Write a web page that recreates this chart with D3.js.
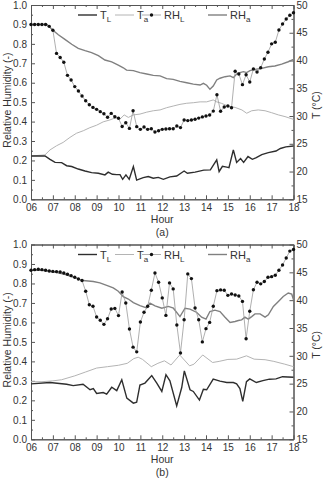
<!DOCTYPE html>
<html>
<head>
<meta charset="utf-8">
<script src="https://cdn.jsdelivr.net/npm/d3@7"></script>
<style>
body { margin: 0; background: #fff; }
text { font-family: "Liberation Sans", Arial, sans-serif; }
</style>
</head>
<body>
<div id="chart"></div>
<script>
// 10-minute sampling grid, 06:00 to 18:00
const hours = d3.range(73).map(i => 6 + i / 6);
const hourTicks = d3.range(6, 19);
const rhTicks = d3.range(0, 11).map(d => d / 10);
const tTicks = [15, 20, 25, 30, 35, 40, 45, 50];

// ---- panel (a) ----
const rhLA = [0.90, 0.90, 0.90, 0.90, 0.90, 0.89, 0.87, 0.751, 0.73, 0.705,
  0.638, 0.614, 0.58, 0.557, 0.532, 0.507, 0.487, 0.473, 0.463, 0.451,
  0.44, 0.422, 0.442, 0.425, 0.417, 0.375, 0.394, 0.365, 0.456, 0.374,
  0.36, 0.372, 0.36, 0.363, 0.346, 0.353, 0.36, 0.362, 0.363, 0.363,
  0.377, 0.369, 0.408, 0.405, 0.408, 0.412, 0.418, 0.424, 0.429, 0.434,
  0.454, 0.538, 0.453, 0.475, 0.48, 0.471, 0.659, 0.645, 0.59, 0.641,
  0.604, 0.671, 0.655, 0.677, 0.722, 0.757, 0.8, 0.808, 0.871, 0.902,
  0.928, 0.947, 0.96];

const rhAA = [[6.0, 0.90], [6.73, 0.90], [6.99, 0.871], [7.25, 0.847], [7.55, 0.823],
  [7.86, 0.798], [8.16, 0.777], [8.47, 0.765], [8.77, 0.755], [9.08, 0.739],
  [9.38, 0.717], [9.69, 0.707], [9.99, 0.69], [10.22, 0.677], [10.37, 0.665],
  [10.68, 0.662], [10.98, 0.652], [11.29, 0.645], [11.59, 0.638], [11.9, 0.635],
  [12.2, 0.621], [12.5, 0.617], [12.81, 0.607], [13.12, 0.6], [13.42, 0.593],
  [13.73, 0.588], [13.88, 0.597], [14.03, 0.587], [14.18, 0.566], [14.33, 0.583],
  [14.49, 0.614], [14.64, 0.623], [14.87, 0.631], [15.1, 0.635], [15.25, 0.626],
  [15.4, 0.645], [15.55, 0.652], [15.71, 0.657], [15.86, 0.652], [16.01, 0.662],
  [16.24, 0.669], [16.55, 0.674], [16.85, 0.682], [17.15, 0.686], [17.46, 0.696],
  [17.76, 0.708], [18.0, 0.72]];

// temperatures in °C
const tLA = [[6.0, 22.8], [6.64, 22.8], [6.87, 22.2], [7.1, 21.65], [7.4, 21.6],
  [7.63, 21.05], [7.86, 20.9], [8.16, 20.45], [8.47, 20.1], [8.77, 19.8],
  [9.08, 19.7], [9.38, 19.4], [9.53, 19.9], [9.72, 19.5], [9.92, 19.45],
  [10.07, 19.45], [10.19, 18.6], [10.34, 19.4], [10.49, 18.6], [10.68, 20.9],
  [10.83, 18.45], [11.13, 18.9], [11.36, 19.1], [11.59, 18.8], [11.82, 18.95],
  [12.05, 18.6], [12.35, 19.05], [12.66, 19.2], [13.0, 20.1], [13.15, 19.7],
  [13.5, 19.9], [13.9, 20.25], [14.2, 20.3], [14.49, 22.1], [14.6, 20.0],
  [14.75, 20.95], [14.95, 20.8], [15.05, 20.7], [15.25, 23.9], [15.4, 21.65],
  [15.58, 22.35], [15.72, 21.65], [15.92, 22.7], [16.12, 22.2], [16.3, 22.5],
  [16.55, 23.05], [16.85, 23.4], [17.2, 23.7], [17.4, 24.15], [17.65, 24.45],
  [18.0, 24.6]];

const tAA = [[6.0, 22.8], [6.64, 23.0], [6.87, 23.9], [7.17, 24.65], [7.47, 25.25],
  [7.78, 26.15], [8.08, 26.9], [8.39, 27.35], [8.69, 27.9], [9.0, 28.35],
  [9.3, 28.95], [9.61, 29.3], [9.91, 29.75], [10.08, 29.5], [10.26, 30.2],
  [10.45, 29.75], [10.68, 30.2], [10.98, 30.35], [11.29, 30.7], [11.59, 30.95],
  [11.9, 31.1], [12.2, 31.5], [12.5, 31.8], [12.81, 32.1], [13.12, 32.3],
  [13.42, 32.4], [13.73, 32.55], [14.03, 32.55], [14.33, 32.9], [14.49, 32.55],
  [14.7, 32.3], [15.0, 31.8], [15.33, 31.55], [15.64, 31.1], [15.86, 30.5],
  [16.09, 30.95], [16.39, 31.1], [16.7, 30.95], [17.0, 30.6], [17.31, 30.2],
  [17.61, 29.9], [18.0, 29.4]];

// ---- panel (b) ----
const rhLB = [0.868, 0.871, 0.873, 0.871, 0.868, 0.864, 0.862, 0.861, 0.859, 0.854,
  0.847, 0.84, 0.832, 0.823, 0.815, 0.76, 0.691, 0.683, 0.628, 0.611,
  0.59, 0.619, 0.669, 0.672, 0.635, 0.756, 0.7, 0.566, 0.473, 0.449,
  0.602, 0.652, 0.683, 0.765, 0.854, 0.806, 0.726, 0.636, 0.803, 0.772,
  0.587, 0.443, 0.614, 0.849, 0.825, 0.674, 0.614, 0.5, 0.568, 0.6,
  0.683, 0.763, 0.767, 0.765, 0.739, 0.746, 0.741, 0.736, 0.708, 0.516,
  0.657, 0.768, 0.806, 0.798, 0.81, 0.832, 0.835, 0.842, 0.868, 0.895,
  0.931, 0.966, 0.974];

const rhAB = [[6.0, 0.868], [6.5, 0.868], [7.0, 0.86], [7.5, 0.848], [8.0, 0.83],
  [8.38, 0.815], [8.85, 0.81], [9.15, 0.803], [9.46, 0.79], [9.76, 0.777],
  [9.99, 0.76], [10.22, 0.732], [10.45, 0.72], [10.68, 0.702], [10.98, 0.686],
  [11.29, 0.675], [11.44, 0.699], [11.67, 0.685], [11.98, 0.673], [12.28, 0.682],
  [12.51, 0.673], [12.81, 0.63], [13.04, 0.673], [13.27, 0.668], [13.58, 0.651],
  [13.8, 0.627], [14.0, 0.617], [14.18, 0.656], [14.41, 0.663], [14.64, 0.656],
  [14.87, 0.627], [15.1, 0.6], [15.33, 0.605], [15.48, 0.61], [15.63, 0.613],
  [15.78, 0.627], [15.93, 0.617], [16.09, 0.63], [16.24, 0.644], [16.47, 0.644],
  [16.7, 0.627], [16.85, 0.639], [17.08, 0.682], [17.31, 0.708], [17.53, 0.733],
  [17.76, 0.751], [17.92, 0.745], [18.0, 0.716]];

const tLB = [[6.0, 24.95], [6.87, 25.2], [7.63, 24.9], [7.93, 24.65], [8.38, 24.9],
  [8.7, 23.9], [8.85, 24.1], [9.0, 23.25], [9.3, 23.4], [9.46, 23.1],
  [9.69, 24.35], [9.92, 23.75], [10.15, 25.7], [10.38, 22.4], [10.68, 21.5],
  [10.83, 21.65], [10.98, 24.75], [11.21, 25.1], [11.52, 26.45], [11.75, 25.1],
  [11.98, 23.6], [12.17, 26.6], [12.35, 25.5], [12.66, 21.0], [12.89, 24.3],
  [13.01, 27.3], [13.27, 23.9], [13.42, 23.6], [13.7, 22.05], [13.88, 24.0],
  [14.03, 23.9], [14.33, 25.8], [14.64, 25.45], [14.95, 25.2], [15.25, 25.2],
  [15.4, 24.95], [15.55, 24.1], [15.68, 21.8], [15.85, 25.35], [16.0, 25.85],
  [16.3, 25.2], [16.6, 25.55], [16.9, 25.8], [17.2, 25.85], [17.5, 26.25],
  [18.0, 26.15]];

const tAB = [[6.0, 25.35], [6.5, 25.35], [7.0, 25.5], [7.4, 25.7], [8.0, 26.4],
  [8.5, 27.1], [9.0, 27.8], [9.5, 28.05], [10.0, 28.3], [10.4, 28.65],
  [10.7, 29.5], [10.9, 29.75], [11.1, 29.35], [11.5, 28.05], [11.8, 28.65],
  [12.1, 29.1], [12.4, 28.35], [12.8, 30.15], [13.25, 28.2], [13.45, 28.5],
  [13.85, 30.15], [14.3, 28.8], [14.6, 29.0], [15.0, 29.35], [15.4, 29.4],
  [15.85, 30.0], [16.2, 29.4], [16.7, 29.3], [17.1, 29.0], [17.6, 28.5],
  [18.0, 28.05]];

const panels = [
  { top: 5, bottom: 199.3, caption: "(a)", rhL: rhLA, rhA: rhAA, tL: tLA, tA: tAA },
  { top: 244.5, bottom: 439.3, caption: "(b)", rhL: rhLB, rhA: rhAB, tL: tLB, tA: tAB }
];

const W = 325, H = 480;
const left = 31, right = 293.5;

const svg = d3.select("#chart").append("svg")
  .attr("width", W)
  .attr("height", H);

const x = d3.scaleLinear().domain([6, 18]).range([left, right]);

const frameColor = "#555";
const textColor = "#333";

function styleAxis(g) {
  g.select(".domain").attr("stroke", frameColor);
  g.selectAll(".tick line").attr("stroke", frameColor);
  g.selectAll(".tick text")
    .attr("fill", textColor)
    .style("font-size", "10px")
    .style("font-family", "'Liberation Sans', Arial, sans-serif");
}

function drawPanel(p) {
  const yL = d3.scaleLinear().domain([0, 1]).range([p.bottom, p.top]);
  const yR = d3.scaleLinear().domain([15, 50]).range([p.bottom, p.top]);
  const g = svg.append("g");
  const mid = (p.top + p.bottom) / 2;

  // axes with inward ticks, minor ticks on every side
  g.append("g")
    .attr("transform", `translate(0,${p.bottom})`)
    .call(d3.axisBottom(x).tickValues(hourTicks).tickSizeInner(-4).tickSizeOuter(0)
      .tickPadding(5).tickFormat(d3.format("02d")))
    .call(styleAxis);
  g.append("g")
    .attr("transform", `translate(0,${p.bottom})`)
    .call(d3.axisBottom(x).tickValues(d3.range(6.5, 18, 1)).tickSizeInner(-2).tickSizeOuter(0).tickFormat(""))
    .call(styleAxis);
  g.append("g")
    .attr("transform", `translate(0,${p.top})`)
    .call(d3.axisTop(x).tickValues(hourTicks).tickSizeInner(-4).tickSizeOuter(0).tickFormat(""))
    .call(styleAxis);
  g.append("g")
    .attr("transform", `translate(0,${p.top})`)
    .call(d3.axisTop(x).tickValues(d3.range(6.5, 18, 1)).tickSizeInner(-2).tickSizeOuter(0).tickFormat(""))
    .call(styleAxis);

  g.append("g")
    .attr("transform", `translate(${left},0)`)
    .call(d3.axisLeft(yL).tickValues(rhTicks).tickSizeInner(-4).tickSizeOuter(0)
      .tickPadding(4).tickFormat(d3.format(".1f")))
    .call(styleAxis);
  g.append("g")
    .attr("transform", `translate(${left},0)`)
    .call(d3.axisLeft(yL).tickValues(d3.range(0.05, 1, 0.1)).tickSizeInner(-2).tickSizeOuter(0).tickFormat(""))
    .call(styleAxis);

  g.append("g")
    .attr("transform", `translate(${right},0)`)
    .call(d3.axisRight(yR).tickValues(tTicks).tickSizeInner(-4).tickSizeOuter(0)
      .tickPadding(3).tickFormat(d3.format("d")))
    .call(styleAxis);
  g.append("g")
    .attr("transform", `translate(${right},0)`)
    .call(d3.axisRight(yR).tickValues(d3.range(17.5, 50, 5)).tickSizeInner(-2).tickSizeOuter(0).tickFormat(""))
    .call(styleAxis);

  // series
  const lineT = d3.line().x(d => x(d[0])).y(d => yR(d[1]));
  const lineRH = d3.line().x(d => x(d[0])).y(d => yL(d[1]));
  const rhLPts = hours.map((h, i) => [h, p.rhL[i]]);

  g.append("path").datum(p.tA)
    .attr("fill", "none").attr("stroke", "#b4b4b4").attr("stroke-width", 1)
    .attr("d", lineT);
  g.append("path").datum(p.tL)
    .attr("fill", "none").attr("stroke", "#2e2e2e").attr("stroke-width", 1.4)
    .attr("d", lineT);
  g.append("path").datum(p.rhA)
    .attr("fill", "none").attr("stroke", "#808080").attr("stroke-width", 1.4)
    .attr("d", lineRH);
  g.append("path").datum(rhLPts)
    .attr("fill", "none").attr("stroke", "#9a9a9a").attr("stroke-width", 0.8)
    .attr("d", lineRH);
  g.selectAll(".dot").data(rhLPts).enter()
    .append("circle")
    .attr("class", "dot")
    .attr("cx", d => x(d[0]))
    .attr("cy", d => yL(d[1]))
    .attr("r", 1.7)
    .attr("fill", "#111");

  // legend
  const ly = p.top + 10;
  const leg = [
    { name: "T", sub: "L", x0: 78, color: "#2e2e2e", w: 1.4, dot: false },
    { name: "T", sub: "a", x0: 115, color: "#b4b4b4", w: 1, dot: false },
    { name: "RH", sub: "L", x0: 142, color: "#9a9a9a", w: 0.8, dot: true },
    { name: "RH", sub: "a", x0: 208, color: "#808080", w: 1.4, dot: false }
  ];
  leg.forEach(l => {
    g.append("line")
      .attr("x1", l.x0).attr("x2", l.x0 + 19)
      .attr("y1", ly).attr("y2", ly)
      .attr("stroke", l.color).attr("stroke-width", l.w);
    if (l.dot) {
      g.append("circle").attr("cx", l.x0 + 9.5).attr("cy", ly).attr("r", 1.7).attr("fill", "#111");
    }
    const t = g.append("text")
      .attr("x", l.x0 + 22).attr("y", ly + 4)
      .attr("fill", textColor)
      .style("font-size", "11px");
    t.append("tspan").text(l.name);
    t.append("tspan").attr("dy", 3).style("font-size", "8px").text(l.sub);
  });

  // axis titles
  g.append("text")
    .attr("x", (left + right) / 2).attr("y", p.bottom + 23.5)
    .attr("text-anchor", "middle")
    .attr("fill", textColor)
    .style("font-size", "10.5px")
    .text("Hour");
  g.append("text")
    .attr("x", (left + right) / 2).attr("y", p.bottom + 37)
    .attr("text-anchor", "middle")
    .attr("fill", textColor)
    .style("font-size", "10.5px")
    .text(p.caption);
  g.append("text")
    .attr("transform", `translate(10.5,${mid - 2}) rotate(-90)`)
    .attr("text-anchor", "middle")
    .attr("fill", textColor)
    .style("font-size", "10.5px")
    .text("Relative Humidity (-)");
  g.append("text")
    .attr("transform", `translate(320,${mid + 3}) rotate(-90)`)
    .attr("text-anchor", "middle")
    .attr("fill", textColor)
    .style("font-size", "10.5px")
    .text("T (°C)");
}

panels.forEach(drawPanel);
</script>
</body>
</html>
